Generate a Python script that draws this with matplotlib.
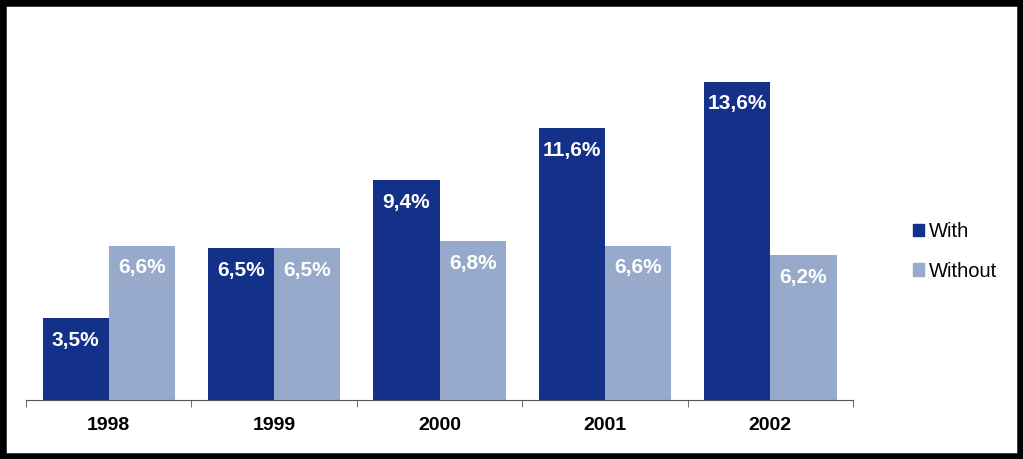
import numpy as np
import matplotlib
matplotlib.use("Agg")
from matplotlib import pyplot as plt
import matplotlib.patches as mpatches

# data
years = ["1998", "1999", "2000", "2001", "2002"]
with_vals = [3.5, 6.5, 9.4, 11.6, 13.6]
without_vals = [6.6, 6.5, 6.8, 6.6, 6.2]

dark = "#14318A"
light = "#98AACB"

plt.rcParams['font.family'] = ['Liberation Sans', 'DejaVu Sans']

fig = plt.figure(figsize=(10.23, 4.59), dpi=100)
ax = fig.add_axes([0.0254, 0.1285, 0.8085, 0.765])

x = np.arange(len(years))
w = 0.4
bars1 = ax.bar(x - w / 2, with_vals, w, color=dark)
bars2 = ax.bar(x + w / 2, without_vals, w, color=light)

# value labels inside bar tops
for bars, vals in [(bars1, with_vals), (bars2, without_vals)]:
    for b, v in zip(bars, vals):
        ax.annotate(f"{v:.1f}".replace(".", ",") + "%",
                    (b.get_x() + b.get_width() / 2, v),
                    xytext=(0, -16), textcoords="offset points",
                    ha="center", va="center", color="white",
                    fontsize=15, fontweight="bold")

ax.set_xlim(-0.5, len(years) - 0.5)
ax.set_ylim(0, 15)
for s in ["top", "right", "left"]:
    ax.spines[s].set_visible(False)
ax.spines["bottom"].set_color("#555555")
ax.set_yticks([])
ax.set_xticks(x)
ax.set_xticklabels(years, fontsize=14, fontweight="bold")
ax.tick_params(axis="x", which="major", length=0, pad=12)
ax.set_xticks(np.arange(-0.5, len(years)), minor=True)
ax.tick_params(axis="x", which="minor", length=5, color="#555555", direction="out")

handles = [mpatches.Patch(color=dark, label="With"),
           mpatches.Patch(color=light, label="Without")]
fig.legend(handles=handles, loc="center left", bbox_to_anchor=(0.875, 0.452),
           frameon=False, fontsize=14.5, handlelength=0.55, handleheight=0.55,
           handletextpad=0.25, labelspacing=1.0)

# thick black frame around the picture
frame = mpatches.Rectangle((0, 0), 1, 1, transform=fig.transFigure, fill=False,
                           edgecolor="black", linewidth=9, zorder=10)
fig.patches.append(frame)

fig.savefig("out.png", dpi=100, facecolor="white")
